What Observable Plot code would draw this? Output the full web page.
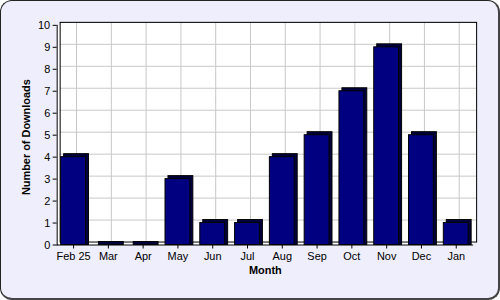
<!DOCTYPE html>
<html>
<head>
<meta charset="utf-8">
<script src="https://cdn.jsdelivr.net/npm/d3@7"></script>
<script src="https://cdn.jsdelivr.net/npm/@observablehq/plot@0.6"></script>
<style>
  html, body { margin: 0; padding: 0; background: #ffffff; }
  #box {
    position: relative; width: 500px; height: 300px; box-sizing: border-box;
    border: 1px solid #222; border-right: 2px solid #444; border-bottom: 2px solid #444;
    border-radius: 12px; background: #eeeefc; overflow: hidden;
  }
  #box svg { position: absolute; left: -1px; top: -1px; }
</style>
</head>
<body>
<div id="box"></div>
<script>
const months = ["Feb 25", "Mar", "Apr", "May", "Jun", "Jul", "Aug", "Sep", "Oct", "Nov", "Dec", "Jan"];
const downloads = [4, 0, 0, 3, 1, 1, 4, 5, 7, 9, 5, 1];
const yTicks = [0, 1, 2, 3, 4, 5, 6, 7, 8, 9, 10];
const xTitle = "Month";
const yTitle = "Number of Downloads";

const data = months.map((m, i) => ({month: m, n: downloads[i]}));

const chart = Plot.plot({
  width: 500, height: 300,
  marginLeft: 57, marginRight: 24, marginTop: 25, marginBottom: 54,
  style: {background: "transparent", fontFamily: "'Liberation Sans', Arial, sans-serif", fontSize: "11px", color: "black"},
  x: {domain: months, range: [56, 476], paddingInner: 0.28, paddingOuter: 0.14, label: null, axis: null},
  y: {domain: [0, 10], label: null, axis: null},
  marks: [
    Plot.frame({fill: "white"}),
    Plot.frame({fill: "white", dx: 3, dy: -3}),
    Plot.ruleY(yTicks.slice(1), {stroke: "#c8c8c8", strokeOpacity: 1, dx: 3, dy: -3}),
    Plot.ruleX(months, {stroke: "#c8c8c8", strokeOpacity: 1, dx: 3, dy: -3}),
    Plot.frame({stroke: "black", strokeOpacity: 1, dx: 3, dy: -3}),
    Plot.barY(data, {x: "month", y: "n", fill: "#00003c", stroke: "black", dx: 3, dy: -3, insetBottom: -3}),
    Plot.barY(data, {x: "month", y: "n", fill: "#000080", stroke: "black"}),
    Plot.ruleY([0], {stroke: "black", strokeOpacity: 1}),
    Plot.frame({anchor: "left", stroke: "black", strokeOpacity: 1}),
    Plot.axisY({ticks: yTicks, tickSize: 4, tickPadding: 3, label: null, tickFormat: d => d}),
    Plot.axisX({tickSize: 4, tickPadding: 3, label: null}),
    Plot.text([yTitle], {frameAnchor: "left", dx: -31, dy: 2, rotate: -90, textAnchor: "middle", lineAnchor: "middle", fontWeight: "bold", fontSize: 11}),
    Plot.text([xTitle], {frameAnchor: "bottom", dy: 26, lineAnchor: "middle", fontWeight: "bold", fontSize: 11})
  ]
});
document.getElementById("box").appendChild(chart);
</script>
</body>
</html>
